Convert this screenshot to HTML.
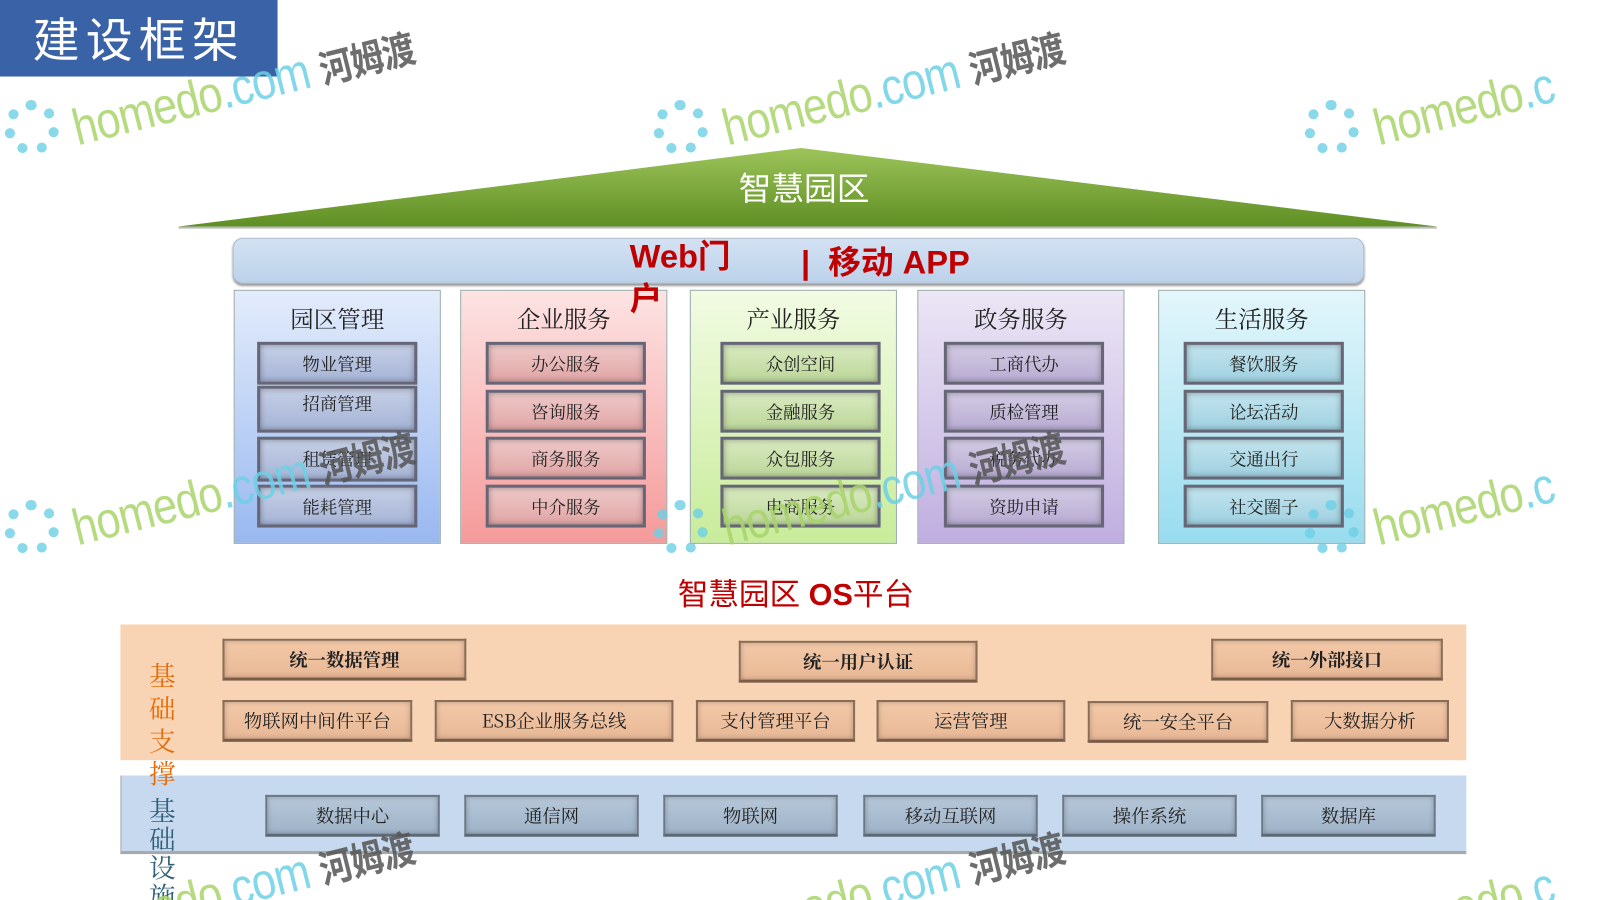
<!DOCTYPE html>
<html><head><meta charset="utf-8"><style>
html,body{margin:0;padding:0;background:#fff;overflow:hidden;width:1600px;height:900px}
#w{position:relative;width:1568px;height:882px;overflow:hidden;transform:scale(1.0204);transform-origin:0 0;font-family:"Liberation Sans","Noto Sans CJK SC",sans-serif}
.a{position:absolute}
.col{position:absolute;top:284px;height:249px;width:203px;border:1px solid #9aa;box-sizing:border-box}
.col .t{position:absolute;top:10px;left:0;right:0;text-align:center;font-size:23px;color:#222;font-family:"Noto Serif CJK SC","Noto Sans CJK SC",serif}
.ib{position:absolute;width:157px;height:42px;box-sizing:border-box;border:3px solid #667;box-shadow:inset 0 0 6px rgba(0,0,0,.35);text-align:center;line-height:36px;font-size:17px;color:#222;font-family:"Noto Serif CJK SC","Noto Sans CJK SC",serif}
.ob{position:absolute;box-sizing:border-box;border:2px solid #8a6d58;border-bottom:3px solid #7a5d48;background:linear-gradient(#f3c9a8,#e8b896);box-shadow:inset 0 0 5px rgba(0,0,0,.25);text-align:center;font-size:18px;color:#222;height:41px;line-height:37px;font-family:"Noto Serif CJK SC","Noto Sans CJK SC",serif}
.bb{position:absolute;top:779px;height:41px;width:171px;box-sizing:border-box;border:2px solid #6d7885;border-bottom:3px solid #5d6875;background:linear-gradient(#b6c7d9,#9fb3c8);box-shadow:inset 0 0 5px rgba(0,0,0,.25);text-align:center;line-height:37px;font-size:18px;color:#222;font-family:"Noto Serif CJK SC","Noto Sans CJK SC",serif}
.wm{position:absolute;font-size:50px;color:#a8d46a;transform:rotate(-14deg) scaleX(0.85);transform-origin:0 0;white-space:nowrap;opacity:.85;letter-spacing:-1px}
.wm b{color:#6dd0e6;font-weight:normal}.wm i{font-style:normal;color:#555;font-size:38px;font-weight:bold}
.fl{position:absolute;width:54px;height:54px;border-radius:50%;border:10px dotted #6dd0e6;box-sizing:border-box;opacity:.8}
.vt{position:absolute;left:146px;font-size:26px;font-family:"Noto Serif CJK SC",serif}
</style></head><body><div id="w">
<div class="a" style="left:0;top:0;width:272px;height:75px;background:#3a62a6;color:#fff;font-size:46px;line-height:75px;text-align:center;letter-spacing:6px;font-family:'Noto Sans CJK SC',sans-serif">建设框架</div>
<svg class="a" style="left:0;top:0" width="1568" height="300"><defs><linearGradient id="g" x1="0" y1="0" x2="0" y2="1"><stop offset="0" stop-color="#9dc45a"/><stop offset="1" stop-color="#5f8f24"/></linearGradient></defs><polygon points="175,222 785,145 1408,222" fill="url(#g)"/><line x1="175" y1="223" x2="1408" y2="223" stroke="#bbb" stroke-width="2"/></svg>
<div class="a" style="left:688px;top:160px;width:200px;text-align:center;color:#fff;font-size:32px">智慧园区</div>
<div class="a" style="left:228px;top:233px;width:1109px;height:45px;border-radius:10px;background:linear-gradient(#d3e2f3,#bcd2ea);border:1px solid #a9b9cc;box-shadow:0 2px 2px #999;box-sizing:border-box"></div>
<div class="a" style="left:785px;top:232px;color:#c00000;font-size:32px;font-weight:bold">|&nbsp; 移动 APP</div>

<div class="col" style="left:229px;background:linear-gradient(#e3ecfb,#99b8f0)"><div class="t">园区管理</div></div>
<div class="col" style="left:451px;background:linear-gradient(#fde3e3,#f59a9a)"><div class="t">企业服务</div></div>
<div class="col" style="left:676px;background:linear-gradient(#f2fbe3,#c8ec9a)"><div class="t">产业服务</div></div>
<div class="col" style="left:899px;background:linear-gradient(#ece6f5,#bfaee0)"><div class="t">政务服务</div></div>
<div class="col" style="left:1135px;background:linear-gradient(#e3f6fb,#98dcef)"><div class="t">生活服务</div></div>
<div class="a" style="left:617px;top:230px;width:110px;color:#c00000;font-size:32px;font-weight:bold;line-height:42px;z-index:2">Web门<br>户</div>

<div class="ib" style="left:252px;top:335px;background:linear-gradient(#c5cfe6,#a6b4d6)">物业管理</div>
<div class="ib" style="left:252px;top:378px;height:46px;line-height:28px;background:linear-gradient(#c5cfe6,#a6b4d6)">招商管理</div>
<div class="ib" style="left:252px;top:428px;height:44px;background:linear-gradient(#c5cfe6,#a6b4d6)">租赁管理</div>
<div class="ib" style="left:252px;top:475px;background:linear-gradient(#c5cfe6,#a6b4d6)">能耗管理</div>
<div class="ib" style="left:476px;top:335px;background:linear-gradient(#efc9c9,#e0a5a5)">办公服务</div>
<div class="ib" style="left:476px;top:382px;background:linear-gradient(#efc9c9,#e0a5a5)">咨询服务</div>
<div class="ib" style="left:476px;top:428px;background:linear-gradient(#efc9c9,#e0a5a5)">商务服务</div>
<div class="ib" style="left:476px;top:475px;background:linear-gradient(#efc9c9,#e0a5a5)">中介服务</div>
<div class="ib" style="left:706px;top:335px;background:linear-gradient(#d9eac0,#bcd69a)">众创空间</div>
<div class="ib" style="left:706px;top:382px;background:linear-gradient(#d9eac0,#bcd69a)">金融服务</div>
<div class="ib" style="left:706px;top:428px;background:linear-gradient(#d9eac0,#bcd69a)">众包服务</div>
<div class="ib" style="left:706px;top:475px;background:linear-gradient(#d9eac0,#bcd69a)">电商服务</div>
<div class="ib" style="left:925px;top:335px;background:linear-gradient(#d3cbe4,#b8acd2)">工商代办</div>
<div class="ib" style="left:925px;top:382px;background:linear-gradient(#d3cbe4,#b8acd2)">质检管理</div>
<div class="ib" style="left:925px;top:428px;background:linear-gradient(#d3cbe4,#b8acd2)">税务代办</div>
<div class="ib" style="left:925px;top:475px;background:linear-gradient(#d3cbe4,#b8acd2)">资助申请</div>
<div class="ib" style="left:1160px;top:335px;background:linear-gradient(#c3e4ee,#9fd0e0)">餐饮服务</div>
<div class="ib" style="left:1160px;top:382px;background:linear-gradient(#c3e4ee,#9fd0e0)">论坛活动</div>
<div class="ib" style="left:1160px;top:428px;background:linear-gradient(#c3e4ee,#9fd0e0)">交通出行</div>
<div class="ib" style="left:1160px;top:475px;background:linear-gradient(#c3e4ee,#9fd0e0)">社交圈子</div>

<div class="a" style="left:580px;top:558px;width:400px;text-align:center;color:#c00000;font-size:30px"><span>智慧园区 </span><b>OS</b>平台</div>

<div class="a" style="left:118px;top:612px;width:1319px;height:133px;background:#f9d4b4"></div>
<div class="a" style="left:118px;top:760px;width:1319px;height:77px;background:#c6d9ef;border-bottom:3px solid #a9a9a9;border-left:1px solid #aaa;box-sizing:border-box"></div>

<div class="ob" style="left:218px;top:626px;width:239px;font-weight:bold">统一数据管理</div>
<div class="ob" style="left:724px;top:628px;width:234px;font-weight:bold">统一用户认证</div>
<div class="ob" style="left:1187px;top:626px;width:227px;font-weight:bold">统一外部接口</div>
<div class="ob" style="left:218px;top:686px;width:186px">物联网中间件平台</div>
<div class="ob" style="left:426px;top:686px;width:234px">ESB企业服务总线</div>
<div class="ob" style="left:682px;top:686px;width:156px">支付管理平台</div>
<div class="ob" style="left:859px;top:686px;width:185px">运营管理</div>
<div class="ob" style="left:1066px;top:687px;width:177px">统一安全平台</div>
<div class="ob" style="left:1265px;top:686px;width:155px">大数据分析</div>

<div class="bb" style="left:260px">数据中心</div>
<div class="bb" style="left:455px">通信网</div>
<div class="bb" style="left:650px">物联网</div>
<div class="bb" style="left:846px">移动互联网</div>
<div class="bb" style="left:1041px">操作系统</div>
<div class="bb" style="left:1236px">数据库</div>

<div class="vt" style="top:646px;color:#e46c0a;line-height:32px">基<br>础<br>支<br>撑</div>
<div class="vt" style="top:780px;color:#31607a;line-height:28px">基<br>础<br>设<br>施</div>

<div class="fl" style="left:4px;top:98px"></div>
<div class="fl" style="left:640px;top:98px"></div>
<div class="fl" style="left:1278px;top:98px"></div>
<div class="fl" style="left:4px;top:490px"></div>
<div class="fl" style="left:640px;top:490px"></div>
<div class="fl" style="left:1278px;top:490px"></div>
<div class="wm" style="left:65px;top:98px">homedo<b>.com</b> <i>河姆渡</i></div>
<div class="wm" style="left:702px;top:98px">homedo<b>.com</b> <i>河姆渡</i></div>
<div class="wm" style="left:1340px;top:98px">homedo<b>.c</b></div>
<div class="wm" style="left:65px;top:490px">homedo<b>.com</b> <i>河姆渡</i></div>
<div class="wm" style="left:702px;top:490px">homedo<b>.com</b> <i>河姆渡</i></div>
<div class="wm" style="left:1340px;top:490px">homedo<b>.c</b></div>
<div class="wm" style="left:65px;top:882px">homedo<b>.com</b> <i>河姆渡</i></div>
<div class="wm" style="left:702px;top:882px">homedo<b>.com</b> <i>河姆渡</i></div>
<div class="wm" style="left:1340px;top:882px">homedo<b>.c</b></div>
</div></body></html>
